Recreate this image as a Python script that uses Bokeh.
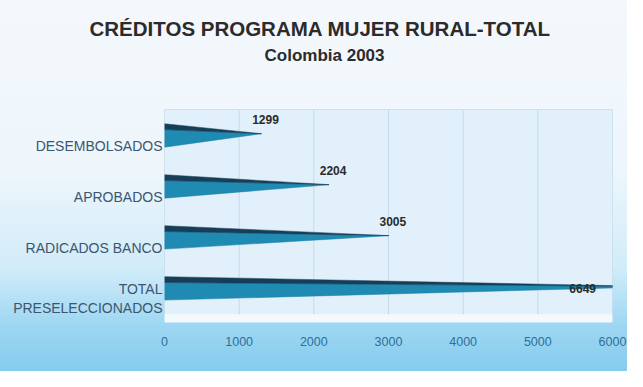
import numpy as np
from bokeh.plotting import figure
from bokeh.models import (ColumnDataSource, FixedTicker, LabelSet, Range1d, Title)
from bokeh.core.properties import value
from bokeh.embed import file_html
from bokeh.resources import INLINE

# ---- data ----
title_text = "CRÉDITOS PROGRAMA MUJER RURAL-TOTAL"
subtitle_text = "Colombia 2003"
categories = ["DESEMBOLSADOS", "APROBADOS", "RADICADOS BANCO", "TOTAL\nPRESELECCIONADOS"]
values = [1299, 2204, 3005, 6649]
x_ticks = [0, 1000, 2000, 3000, 4000, 5000, 6000]
x_tick_labels = ["0", "1000", "2000", "3000", "4000", "5000", "6000"]

XMAX = 6000
W, H = 627, 371
n = len(categories)
ypos = [n - 1 - i for i in range(n)]  # top to bottom
half = 0.23
Y0, WALL_TOP, YTOP = -0.67, 3.51, 4.746   # plot wall spans Y0..WALL_TOP; space above holds subtitle

p = figure(width=W, height=H, output_backend="svg", toolbar_location=None,
           x_range=Range1d(0, XMAX), y_range=Range1d(Y0, YTOP),
           min_border_left=164, min_border_right=15, min_border_bottom=49,
           min_border_top=46)
p.title.text = ""
p.styles = {"background-image": "linear-gradient(to bottom, #f4f8fb 0%, #eef6fb 45%, #d2ecf9 72%, #9dd6f2 88%, #86ccee 100%)"}
p.border_fill_color = None
p.background_fill_color = None
p.outline_line_color = None

# main title
p.add_layout(Title(text=title_text, align="left", offset=-75,
                   text_font="Liberation Sans", text_font_size="20.5px",
                   text_font_style="bold", text_color="#2b2b2b", standoff=13), "above")

# back wall, floor strip + grid lines
p.quad(left=[0], right=[XMAX], bottom=[Y0], top=[WALL_TOP],
       fill_color="#e1f0fa", line_color="#c9e2f0", line_width=1)
p.quad(left=[0], right=[XMAX], bottom=[Y0], top=[Y0 + 0.16],
       fill_color="#f3f9fd", line_color=None)
p.segment(x0=x_ticks, y0=[Y0 + 0.16] * len(x_ticks), x1=x_ticks, y1=[WALL_TOP] * len(x_ticks),
          line_color="#c4dcea", line_width=1)

# subtitle
p.text(x=[2143], y=[4.579], text=[subtitle_text], text_align="center", text_baseline="middle",
       text_font=value("Liberation Sans"), text_font_size="17px",
       text_font_style="bold", text_color="#2b2b2b")

# cones: dark upper part + teal lower part converging to the value tip
top_xs, top_ys, bot_xs, bot_ys = [], [], [], []
for v, y in zip(values, ypos):
    tip = y + 0.15 * half
    top_xs.append([0, v, 0]); top_ys.append([y + half, tip, y + 0.5 * half])
    bot_xs.append([0, v, 0]); bot_ys.append([y + 0.5 * half, tip, y - half])
p.patches(bot_xs, bot_ys, fill_color="#1f8bb3", line_color="#1a7ea5", line_width=0.5)
p.patches(top_xs, top_ys, fill_color="#163e58", line_color="#163e58", line_width=0.5)

# value labels
lab_x = [min(v, XMAX - 400) for v in values]
clipped = [v > XMAX for v in values]
src = ColumnDataSource(dict(
    x=lab_x, y=ypos, t=[str(v) for v in values],
    yo=[0 if c else 16 for c in clipped],
    xo=[0 if c else 4 for c in clipped]))
p.add_layout(LabelSet(x="x", y="y", text="t", source=src, x_offset="xo", y_offset="yo",
                      text_align="center", text_baseline="middle",
                      text_font=value("Liberation Sans"), text_font_size=value("12px"),
                      text_font_style="bold", text_color="#2b2b2b"))

# axes
p.xaxis.ticker = FixedTicker(ticks=x_ticks)
p.xaxis.major_label_overrides = {t: l for t, l in zip(x_ticks, x_tick_labels)}
p.xaxis.axis_line_color = None
p.xaxis.major_tick_line_color = None
p.xaxis.minor_tick_line_color = None
p.xaxis.major_label_standoff = 8
p.xaxis.major_label_text_font = "Liberation Sans"
p.xaxis.major_label_text_font_size = "12.5px"
p.xaxis.major_label_text_color = "#2d6f98"

ytick = [y - 0.2 for y in ypos]
p.yaxis.ticker = FixedTicker(ticks=ytick)
p.yaxis.major_label_overrides = {t: c for t, c in zip(ytick, categories)}
p.yaxis.axis_line_color = None
p.yaxis.major_tick_line_color = None
p.yaxis.minor_tick_line_color = None
p.yaxis.major_label_standoff = -4
p.yaxis.major_label_text_font = "Liberation Sans"
p.yaxis.major_label_text_font_size = "14px"
p.yaxis.major_label_text_color = "#3b5670"

p.xgrid.grid_line_color = None
p.ygrid.grid_line_color = None

open("out.html", "w").write(file_html(p, INLINE))
